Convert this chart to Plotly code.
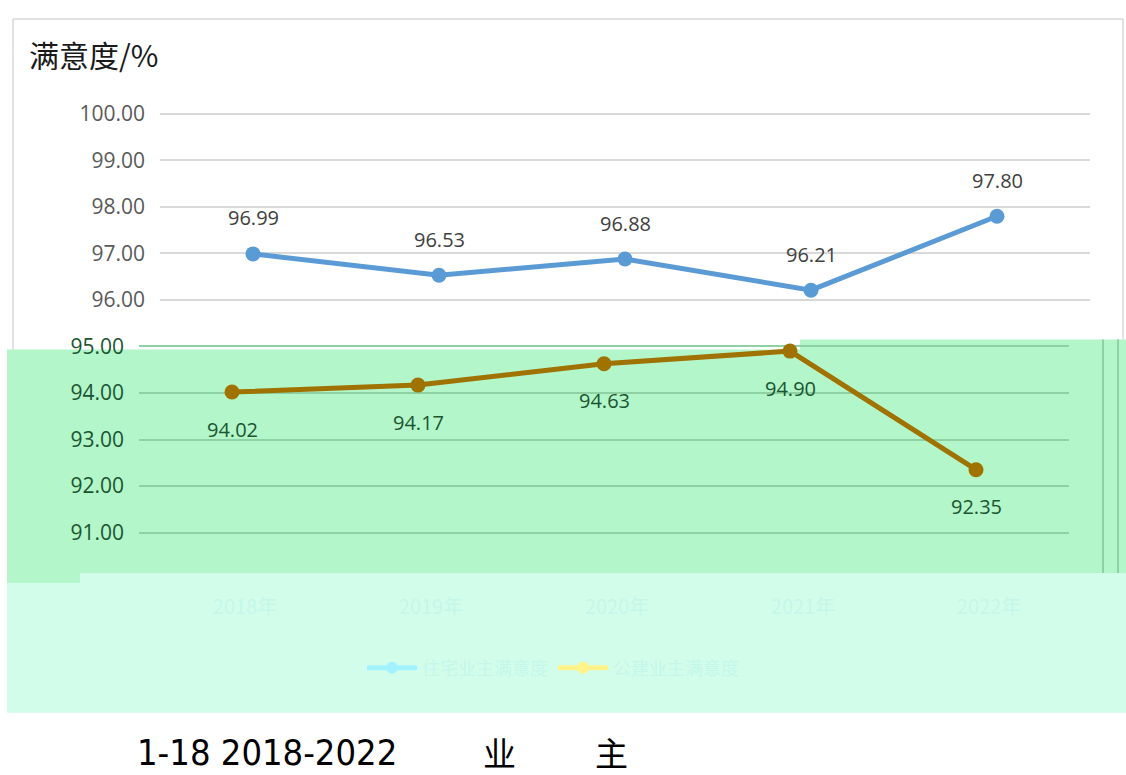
import plotly.graph_objects as go

# ---- data ----
years = ["2018年", "2019年", "2020年", "2021年", "2022年"]
series_a_name = "住宅业主满意度"
series_b_name = "公建业主满意度"
series_a = [96.99, 96.53, 96.88, 96.21, 97.80]
series_b = [94.02, 94.17, 94.63, 94.90, 92.35]
top_ticks = [96, 97, 98, 99, 100]
bottom_ticks = [91, 92, 93, 94, 95]
y_title = "满意度/%"
caption_num = "1-18 2018-2022"
caption_c1 = "业"
caption_c2 = "主"

W, H = 1126, 775
fx = lambda p: p / W
fy = lambda p: 1 - p / H
PPU = 47.0  # pixels per unit on y
Y100 = 107  # pixel of value 100

def val_at(py):
    return 100 - (py - Y100) / PPU

BLUE = "#5B9BD5"
BROWN = "#A07200"
GREEN_BG = "#B2F6CA"
MINT_BG = "#D3FDEB"
GREEN_GRID = "#8ED2A4"
GREEN_TXT = "#1B5530"
FAINT = "#C4F7EA"

fig = go.Figure()

fig.add_trace(go.Scatter(
    x=years, y=series_a, mode="lines+markers", name=series_a_name,
    line=dict(color=BLUE, width=5), marker=dict(size=15, color=BLUE),
    xaxis="x", yaxis="y", showlegend=False, cliponaxis=False))
fig.add_trace(go.Scatter(
    x=years, y=series_b, mode="lines+markers", name=series_b_name,
    line=dict(color=BROWN, width=5), marker=dict(size=15, color=BROWN),
    xaxis="x2", yaxis="y2", showlegend=False, cliponaxis=False))
# legend entries (faded, as in the picture)
fig.add_trace(go.Scatter(x=[None], y=[None], mode="lines+markers", name=series_a_name,
                         line=dict(color="#A2F3FF", width=5), marker=dict(size=12, color="#A2F3FF"),
                         xaxis="x2", yaxis="y2"))
fig.add_trace(go.Scatter(x=[None], y=[None], mode="lines+markers", name=series_b_name,
                         line=dict(color="#FFF38A", width=5), marker=dict(size=12, color="#FFF38A"),
                         xaxis="x2", yaxis="y2"))

annotations = []
for x, v in zip(years, series_a):
    annotations.append(dict(x=x, y=v, xref="x", yref="y", text=f"{v:.2f}", showarrow=False,
                            yshift=36, font=dict(family="Open Sans", size=20, color="#404040")))
for x, v in zip(years, series_b):
    annotations.append(dict(x=x, y=v, xref="x2", yref="y2", text=f"{v:.2f}", showarrow=False,
                            yshift=-37, font=dict(family="Open Sans", size=20, color=GREEN_TXT)))
annotations.append(dict(x=fx(27), y=fy(46), xref="paper", yref="paper", xanchor="left", yanchor="middle",
                        text=y_title, showarrow=False,
                        font=dict(family="Noto Sans CJK SC", size=30, color="#1a1a1a")))
annotations.append(dict(x=fx(135), y=fy(752), xref="paper", yref="paper", xanchor="left", yanchor="middle",
                        text=caption_num, showarrow=False,
                        font=dict(family="DejaVu Sans Condensed, DejaVu Sans", size=36, color="#000000")))
annotations.append(dict(x=fx(499), y=fy(752), xref="paper", yref="paper", xanchor="center", yanchor="middle",
                        text=caption_c1, showarrow=False,
                        font=dict(family="Noto Sans CJK SC", size=33, color="#000000")))
annotations.append(dict(x=fx(611), y=fy(752), xref="paper", yref="paper", xanchor="center", yanchor="middle",
                        text=caption_c2, showarrow=False,
                        font=dict(family="Noto Sans CJK SC", size=33, color="#000000")))

def P(px, py):
    return f"{fx(px):.5f},{fy(py):.5f}"

green_path = ("M " + P(7, 345) + " L " + P(800, 345) + " L " + P(800, 335) + " L " + P(1126, 335) +
              " L " + P(1126, 571) + " L " + P(80, 571) + " L " + P(80, 581) + " L " + P(7, 581) + " Z")

shapes = [
    dict(type="rect", xref="paper", yref="paper", x0=fx(7), x1=fx(1126), y0=fy(712), y1=fy(571),
         fillcolor=MINT_BG, line=dict(width=0), layer="below"),
    dict(type="path", xref="paper", yref="paper", path=green_path,
         fillcolor=GREEN_BG, line=dict(width=0), layer="below"),
    # chart frame (white part)
    dict(type="line", xref="paper", yref="paper", x0=fx(13), x1=fx(1123), y0=fy(11), y1=fy(11),
         line=dict(color="#D9D9D9", width=1.5)),
    dict(type="line", xref="paper", yref="paper", x0=fx(13), x1=fx(13), y0=fy(11), y1=fy(345),
         line=dict(color="#D9D9D9", width=1.5)),
    dict(type="line", xref="paper", yref="paper", x0=fx(1123), x1=fx(1123), y0=fy(11), y1=fy(335),
         line=dict(color="#D9D9D9", width=1.5)),
    # frame lines in the green part
    dict(type="line", xref="paper", yref="paper", x0=fx(1103), x1=fx(1103), y0=fy(335), y1=fy(571),
         line=dict(color=GREEN_GRID, width=2)),
    dict(type="line", xref="paper", yref="paper", x0=fx(1118), x1=fx(1118), y0=fy(335), y1=fy(571),
         line=dict(color=GREEN_GRID, width=2)),
]

fig.update_layout(
    width=W, height=H,
    margin=dict(l=0, r=0, t=0, b=0),
    paper_bgcolor="white", plot_bgcolor="rgba(0,0,0,0)",
    xaxis=dict(domain=[fx(160), fx(1090)], type="category", range=[-0.5, 4.5],
               showticklabels=False, showgrid=False, zeroline=False, showline=False, anchor="y"),
    yaxis=dict(domain=[fy(345), fy(98)], range=[val_at(345), val_at(98)],
               tickvals=top_ticks, ticktext=[f"{t:.2f}" for t in top_ticks],
               gridcolor="#D9D9D9", gridwidth=1.5, zeroline=False, showline=False,
               ticks="", ticklabelstandoff=14, anchor="x",
               tickfont=dict(family="Open Sans", size=21, color="#595959")),
    xaxis2=dict(domain=[fx(139), fx(1069)], type="category", range=[-0.5, 4.5],
                showgrid=False, zeroline=False, showline=False, anchor="y2",
                ticks="", ticklabelstandoff=20, ticklabelshift=13,
                tickfont=dict(family="Noto Sans CJK SC", size=20, color=FAINT)),
    yaxis2=dict(domain=[fy(571), fy(335)], range=[val_at(571), val_at(335)],
                tickvals=bottom_ticks, ticktext=[f"{t:.2f}" for t in bottom_ticks],
                gridcolor=GREEN_GRID, gridwidth=1.5, zeroline=False, showline=False,
                ticks="", ticklabelstandoff=14, anchor="x2",
                tickfont=dict(family="Open Sans", size=21, color=GREEN_TXT)),
    legend=dict(orientation="h", x=fx(362), y=fy(667), xanchor="left", yanchor="middle",
                bgcolor="rgba(0,0,0,0)", font=dict(family="Noto Sans CJK SC", size=18, color=FAINT),
                itemwidth=50),
    annotations=annotations,
    shapes=shapes,
    showlegend=True,
)

fig.write_html("out.html", config={"displayModeBar": False},
               post_script="document.body.style.margin='0';document.body.style.overflow='hidden';")
